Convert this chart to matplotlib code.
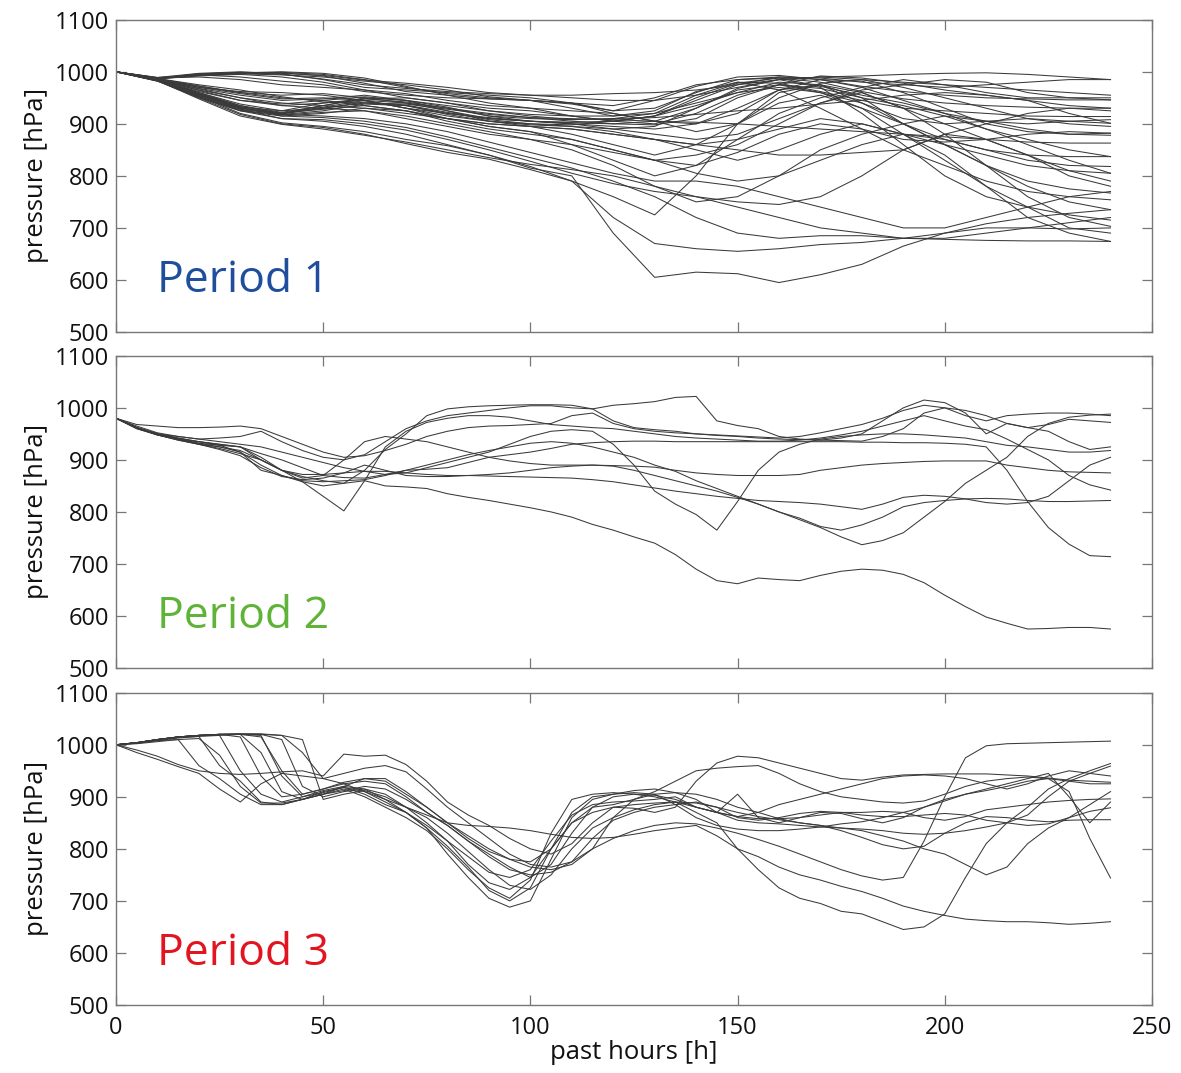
#!/usr/bin/env python3
"""
Pressure along back-trajectories for three periods (three stacked panels)
"""
import numpy as np
import matplotlib
matplotlib.use("Agg")
import matplotlib.pyplot as plt

plt.rcParams['font.family'] = ['Open Sans', 'DejaVu Sans']

# sample times along the trajectories [h]
HOURS_P1 = np.arange(0, 241, 10)
HOURS_P23 = np.arange(0, 241, 5)

# Period 1: pressure [hPa] every 10 h
P1_UPPER = [
    [1000, 988, 996, 999, 998, 992, 978, 962, 955, 948, 945, 940, 935, 950, 975, 985, 990, 988, 980, 975, 970, 975, 980, 985, 985],
    [1000, 987, 994, 997, 999, 995, 985, 970, 958, 950, 945, 938, 925, 945, 972, 990, 993, 985, 972, 962, 955, 950, 948, 946, 946],
    [1000, 989, 997, 1000, 996, 985, 970, 965, 960, 955, 950, 940, 925, 930, 960, 985, 988, 980, 962, 948, 940, 935, 932, 930, 930],
    [1000, 986, 993, 996, 994, 990, 982, 975, 965, 952, 945, 930, 915, 925, 962, 980, 978, 962, 945, 930, 925, 920, 915, 914, 914],
    [1000, 988, 995, 998, 1000, 997, 988, 972, 955, 940, 930, 915, 905, 915, 950, 978, 988, 972, 955, 940, 920, 905, 900, 905, 908],
    [1000, 987, 992, 995, 990, 980, 965, 950, 940, 930, 925, 915, 905, 900, 920, 955, 975, 992, 988, 978, 965, 955, 945, 920, 901],
    [1000, 988, 990, 985, 975, 970, 965, 958, 945, 935, 930, 925, 920, 905, 885, 900, 950, 978, 985, 970, 950, 930, 910, 900, 895],
    [1000, 989, 994, 990, 982, 975, 962, 955, 950, 948, 945, 940, 920, 905, 900, 920, 965, 985, 982, 960, 930, 900, 885, 880, 882],
    [1000, 987, 996, 998, 995, 986, 975, 968, 962, 958, 955, 955, 958, 960, 965, 975, 985, 990, 992, 995, 997, 998, 995, 990, 985],
    [1000, 988, 993, 997, 997, 993, 984, 978, 970, 960, 955, 950, 945, 945, 955, 970, 985, 990, 985, 980, 975, 970, 965, 960, 955],
]
P1_MIDDLE = [
    [1000, 986, 972, 960, 955, 958, 950, 940, 930, 920, 912, 905, 900, 898, 910, 950, 975, 960, 930, 900, 870, 850, 830, 820, 818],
    [1000, 985, 968, 955, 945, 948, 955, 945, 932, 915, 905, 900, 895, 890, 900, 930, 965, 975, 950, 900, 860, 820, 790, 775, 767],
    [1000, 987, 975, 965, 952, 942, 940, 935, 920, 910, 905, 903, 905, 915, 945, 975, 990, 985, 970, 945, 920, 890, 860, 830, 805],
    [1000, 985, 965, 950, 940, 935, 930, 920, 910, 900, 895, 880, 860, 840, 860, 900, 940, 955, 930, 880, 830, 780, 740, 700, 690],
    [1000, 986, 970, 958, 948, 950, 945, 930, 915, 905, 900, 898, 905, 915, 935, 960, 980, 975, 940, 900, 860, 820, 780, 750, 735],
    [1000, 984, 962, 945, 935, 940, 948, 950, 940, 925, 915, 908, 910, 920, 955, 980, 965, 930, 890, 850, 820, 790, 770, 760, 754],
    [1000, 986, 970, 962, 960, 955, 945, 930, 920, 912, 905, 900, 890, 880, 870, 880, 910, 940, 960, 930, 880, 820, 760, 720, 703],
    [1000, 985, 967, 950, 935, 930, 925, 910, 895, 880, 870, 860, 845, 830, 840, 860, 900, 940, 965, 975, 985, 980, 960, 950, 946],
    [1000, 987, 973, 960, 950, 945, 935, 925, 910, 895, 885, 870, 850, 830, 820, 845, 880, 900, 890, 870, 865, 870, 880, 885, 882],
    [1000, 985, 964, 945, 938, 945, 952, 945, 925, 905, 898, 895, 890, 895, 930, 968, 985, 970, 920, 860, 800, 760, 740, 725, 715],
]
P1_LOWER = [
    [1000, 984, 955, 930, 920, 932, 945, 940, 925, 910, 905, 902, 900, 905, 930, 965, 975, 968, 950, 935, 915, 890, 870, 850, 837],
    [1000, 985, 958, 935, 922, 935, 948, 942, 930, 915, 910, 908, 910, 912, 918, 925, 930, 938, 945, 955, 960, 955, 945, 935, 930],
    [1000, 983, 952, 928, 918, 925, 938, 935, 918, 905, 895, 890, 880, 870, 850, 830, 850, 880, 900, 880, 840, 780, 720, 690, 674],
    [1000, 984, 957, 932, 925, 940, 945, 930, 910, 895, 885, 860, 830, 800, 820, 870, 920, 950, 970, 985, 975, 960, 950, 950, 950],
    [1000, 985, 960, 938, 925, 930, 940, 938, 928, 918, 912, 910, 908, 905, 903, 900, 895, 890, 885, 880, 875, 870, 865, 863, 863],
    [1000, 983, 950, 925, 915, 920, 930, 925, 905, 890, 880, 870, 850, 830, 805, 790, 800, 830, 860, 880, 870, 850, 840, 837, 837],
    [1000, 984, 955, 930, 920, 935, 950, 945, 935, 925, 918, 915, 915, 920, 940, 960, 970, 960, 940, 910, 900, 905, 910, 905, 901],
    [1000, 985, 958, 933, 921, 928, 935, 925, 910, 900, 895, 890, 880, 870, 860, 850, 840, 840, 845, 850, 880, 900, 920, 930, 925],
    [1000, 984, 953, 926, 917, 922, 925, 915, 900, 885, 870, 850, 820, 780, 750, 760, 800, 850, 880, 900, 915, 905, 890, 880, 878],
    [1000, 983, 956, 930, 919, 930, 942, 936, 922, 908, 900, 895, 885, 870, 860, 870, 890, 910, 900, 880, 860, 840, 820, 810, 805],
]
P1_LOWEST = [
    [1000, 983, 952, 925, 910, 905, 895, 880, 860, 840, 815, 800, 690, 605, 615, 612, 595, 610, 630, 665, 690, 708, 720, 728, 735],
    [1000, 982, 950, 918, 900, 893, 880, 862, 845, 832, 812, 790, 720, 670, 660, 655, 660, 668, 672, 680, 690, 700, 700, 698, 700],
    [1000, 984, 958, 932, 915, 912, 905, 893, 875, 855, 835, 815, 790, 760, 720, 690, 680, 685, 685, 680, 678, 676, 675, 675, 674],
    [1000, 983, 953, 920, 902, 895, 885, 870, 858, 840, 818, 790, 760, 725, 800, 900, 960, 975, 960, 930, 900, 870, 840, 810, 790],
    [1000, 982, 955, 928, 910, 908, 900, 888, 870, 850, 828, 805, 785, 770, 760, 750, 745, 760, 800, 850, 880, 870, 840, 800, 780],
    [1000, 984, 960, 935, 918, 915, 910, 900, 885, 865, 845, 825, 805, 790, 790, 780, 760, 740, 720, 700, 700, 720, 740, 760, 770],
    [1000, 983, 948, 915, 899, 890, 878, 865, 850, 835, 822, 812, 800, 780, 760, 740, 720, 700, 690, 680, 680, 690, 700, 710, 720],
]

# Period 2: pressure [hPa] every 5 h
P2_LINES = [
    [980, 962, 948, 940, 930, 925, 915, 880, 870, 858, 850, 855, 860, 850, 848, 845, 835, 828, 822, 815, 808, 800, 790, 776, 765,
     752, 740, 718, 690, 668, 662, 673, 670, 668, 678, 686, 690, 688, 680, 664, 640, 618, 598, 586, 575, 576, 578, 578, 575],
    [980, 962, 950, 942, 935, 930, 925, 912, 900, 885, 870, 866, 865, 872, 880, 882, 885, 895, 905, 910, 915, 922, 930, 933, 935,
     936, 936, 935, 935, 935, 935, 935, 935, 935, 935, 935, 934, 934, 933, 933, 932, 930, 925, 880, 820, 770, 738, 716, 714],
    [980, 965, 952, 945, 940, 942, 945, 955, 935, 918, 905, 900, 910, 935, 960, 975, 985, 990, 995, 1000, 1004, 1004, 1000, 998, 1005,
     1008, 1012, 1020, 1022, 975, 966, 960, 945, 940, 938, 942, 950, 975, 1000, 1015, 1010, 990, 950, 970, 962, 955, 935, 920, 925],
    [980, 962, 950, 940, 932, 928, 925, 900, 880, 868, 860, 855, 880, 920, 950, 985, 998, 1002, 1004, 1005, 1006, 1006, 1005, 998, 975,
     962, 958, 955, 950, 947, 945, 942, 940, 939, 938, 937, 936, 945, 960, 990, 1000, 985, 975, 985, 988, 990, 990, 988, 985],
    [980, 962, 948, 938, 930, 922, 912, 900, 880, 858, 830, 802, 860, 925, 955, 972, 980, 985, 985, 982, 975, 968, 965, 962, 960,
     955, 950, 945, 942, 940, 938, 936, 936, 938, 942, 948, 955, 965, 975, 985, 975, 965, 958, 940, 920, 900, 870, 852, 842],
    [980, 968, 965, 962, 962, 963, 965, 960, 945, 930, 915, 905, 908, 918, 930, 945, 955, 962, 965, 966, 968, 970, 985, 990, 970,
     960, 955, 952, 950, 948, 946, 944, 942, 945, 952, 960, 968, 980, 995, 1005, 1000, 995, 985, 970, 962, 968, 978, 975, 972],
    [980, 960, 948, 940, 935, 928, 915, 890, 870, 860, 858, 860, 862, 870, 880, 890, 900, 910, 918, 925, 932, 935, 932, 925, 915,
     905, 890, 878, 860, 845, 830, 815, 800, 785, 770, 752, 737, 745, 760, 790, 820, 855, 880, 905, 945, 970, 982, 986, 988],
    [980, 960, 948, 938, 930, 920, 908, 885, 868, 862, 865, 875, 890, 880, 870, 868, 868, 870, 872, 875, 880, 885, 888, 890, 888,
     880, 870, 860, 850, 840, 828, 815, 800, 788, 772, 765, 775, 790, 810, 818, 822, 825, 826, 825, 822, 820, 820, 821, 822],
    [980, 962, 950, 945, 940, 935, 930, 925, 915, 905, 895, 885, 878, 872, 875, 885, 895, 905, 915, 930, 945, 955, 958, 955, 930,
     890, 840, 815, 795, 765, 820, 880, 915, 930, 940, 945, 948, 950, 950, 948, 945, 942, 935, 928, 925, 920, 915, 915, 918],
    [980, 962, 950, 942, 935, 930, 925, 905, 880, 865, 870, 900, 935, 945, 940, 935, 925, 915, 905, 898, 893, 890, 890, 890, 889,
     888, 886, 880, 875, 872, 870, 870, 870, 872, 880, 885, 890, 893, 895, 897, 898, 898, 898, 890, 885, 880, 877, 876, 875],
    [980, 962, 948, 940, 932, 925, 918, 900, 880, 872, 872, 875, 878, 878, 875, 872, 870, 870, 869, 868, 867, 866, 865, 862, 858,
     852, 846, 840, 835, 830, 826, 822, 820, 818, 815, 810, 805, 815, 828, 832, 830, 825, 818, 815, 818, 830, 860, 890, 905],
]

# Period 3: pressure [hPa] every 5 h
P3_LINES = [
    [1000, 985, 972, 958, 945, 915, 890, 925, 945, 940, 935, 925, 910, 895, 880, 865, 850, 845, 843, 840, 835, 828, 822, 820, 822,
     828, 835, 840, 845, 825, 800, 785, 765, 750, 740, 728, 718, 705, 690, 680, 672, 665, 662, 660, 660, 658, 655, 657, 660],
    [1000, 990, 978, 962, 950, 945, 943, 945, 948, 950, 940, 982, 978, 980, 962, 930, 890, 865, 845, 820, 800, 790, 810, 850, 880,
     878, 870, 880, 930, 965, 978, 975, 965, 955, 945, 935, 932, 938, 942, 943, 944, 944, 944, 942, 940, 936, 932, 930, 928],
    [1000, 1003, 1008, 1010, 960, 935, 905, 885, 885, 895, 905, 915, 900, 880, 860, 835, 800, 760, 725, 705, 740, 830, 895, 905, 908,
     905, 900, 890, 880, 870, 862, 858, 858, 860, 865, 870, 870, 872, 870, 860, 855, 862, 875, 880, 885, 890, 893, 895, 896],
    [1000, 1004, 1010, 1014, 1016, 960, 930, 890, 885, 895, 910, 918, 905, 885, 870, 840, 790, 745, 705, 688, 700, 780, 860, 895, 905,
     912, 915, 908, 895, 870, 855, 850, 848, 845, 842, 840, 838, 835, 830, 828, 830, 835, 842, 850, 865, 900, 930, 945, 959],
    [1000, 1004, 1010, 1015, 1018, 1018, 950, 905, 890, 900, 912, 920, 915, 905, 880, 850, 815, 770, 735, 722, 745, 800, 850, 870, 880,
     885, 888, 890, 870, 850, 800, 760, 725, 705, 695, 680, 675, 660, 645, 650, 675, 745, 810, 850, 880, 915, 935, 950, 964],
    [1000, 1004, 1010, 1015, 1018, 1020, 1015, 940, 900, 905, 915, 925, 930, 925, 900, 870, 845, 815, 785, 760, 750, 755, 775, 800, 820,
     835, 845, 850, 848, 840, 830, 818, 805, 790, 775, 760, 748, 740, 745, 815, 900, 975, 998, 1002, 1003, 1004, 1005, 1006, 1007],
    [1000, 1004, 1010, 1015, 1018, 1020, 1020, 985, 910, 895, 905, 920, 935, 930, 905, 880, 850, 825, 800, 780, 765, 760, 770, 800, 860,
     895, 905, 908, 905, 895, 880, 870, 858, 850, 845, 835, 822, 808, 800, 805, 830, 850, 862, 860, 855, 852, 855, 856, 856],
    [1000, 1004, 1010, 1015, 1018, 1020, 1020, 1015, 950, 905, 915, 928, 935, 935, 910, 880, 850, 820, 795, 780, 775, 800, 850, 880, 885,
     895, 910, 930, 950, 955, 958, 960, 945, 925, 910, 900, 895, 890, 888, 892, 905, 920, 930, 935, 938, 935, 930, 925, 925],
    [1000, 1004, 1010, 1015, 1018, 1020, 1021, 1020, 1010, 920, 900, 910, 915, 895, 870, 845, 815, 785, 755, 745, 760, 815, 865, 885, 890,
     892, 895, 900, 880, 870, 905, 860, 850, 860, 870, 868, 858, 850, 860, 880, 895, 905, 912, 920, 930, 935, 910, 820, 744],
    [1000, 1004, 1010, 1015, 1018, 1020, 1021, 1021, 1018, 985, 935, 945, 955, 960, 948, 915, 880, 850, 820, 790, 770, 765, 775, 820, 855,
     870, 880, 885, 890, 880, 860, 855, 860, 868, 872, 870, 865, 862, 862, 865, 868, 865, 855, 850, 845, 848, 860, 872, 879],
    [1000, 1003, 1008, 1013, 1016, 1018, 1020, 1020, 1018, 1010, 895, 905, 912, 900, 880, 860, 830, 795, 760, 730, 722, 750, 800, 840, 860,
     875, 885, 890, 888, 880, 870, 862, 856, 850, 845, 840, 835, 825, 815, 800, 790, 770, 750, 765, 810, 840, 860, 885, 910],
    [1000, 1002, 1006, 1010, 1012, 980, 920, 888, 888, 895, 905, 912, 920, 915, 895, 870, 845, 815, 790, 765, 745, 770, 830, 880, 900,
     905, 903, 895, 880, 870, 862, 870, 885, 895, 905, 915, 925, 935, 940, 942, 940, 935, 925, 915, 925, 940, 950, 945, 940],
    [1000, 1004, 1010, 1015, 1018, 1020, 1020, 1018, 940, 900, 908, 918, 910, 890, 870, 840, 805, 765, 720, 700, 725, 800, 870, 900, 905,
     908, 905, 885, 860, 845, 838, 835, 835, 838, 842, 848, 852, 860, 870, 880, 892, 905, 915, 925, 935, 945, 900, 850, 890],
]

PANEL_LABELS = ['Period 1', 'Period 2', 'Period 3']
PANEL_COLORS = ['#1f4e9d', '#5fb336', '#e1141f']

LINE_COLOR = '#3a3a3a'
SPINE_COLOR = '#777777'


def style_axes(ax, show_xlabels):
    """MATLAB-like box with inward ticks on all sides"""
    ax.set_xlim(0, 250)
    ax.set_ylim(500, 1100)
    ax.set_xticks([0, 50, 100, 150, 200, 250])
    ax.set_yticks([500, 600, 700, 800, 900, 1000, 1100])
    ax.tick_params(direction='in', length=7.5, width=0.9, color=SPINE_COLOR,
                   top=True, right=True, labelsize=17, labelcolor='#111111')
    ax.tick_params(axis='y', pad=5)
    ax.tick_params(axis='x', pad=8)
    if not show_xlabels:
        ax.tick_params(axis='x', labelbottom=False)
    for spine in ax.spines.values():
        spine.set_edgecolor(SPINE_COLOR)
        spine.set_linewidth(1.0)
    ax.set_ylabel('pressure [hPa]', fontsize=18.5, color='#111111', labelpad=4)


def main():
    fig = plt.figure(figsize=(11.81, 10.73), dpi=100)

    left, width, height = 0.0982, 0.8772, 0.291
    bottoms = [0.6906, 0.3774, 0.0634]

    panels = [P1_UPPER + P1_MIDDLE + P1_LOWER + P1_LOWEST, P2_LINES, P3_LINES]
    hours = [HOURS_P1, HOURS_P23, HOURS_P23]

    for i, lines in enumerate(panels):
        ax = fig.add_axes([left, bottoms[i], width, height])
        for values in lines:
            ax.plot(hours[i], values, color=LINE_COLOR, linewidth=0.75)
        style_axes(ax, show_xlabels=(i == 2))
        ax.text(10, 576, PANEL_LABELS[i], color=PANEL_COLORS[i],
                fontsize=32, va='baseline', ha='left')
        if i == 2:
            ax.set_xlabel('past hours [h]', fontsize=18.5, color='#111111', labelpad=0)

    fig.savefig('out.png', dpi=100, facecolor='white')
    plt.close(fig)


if __name__ == "__main__":
    main()
